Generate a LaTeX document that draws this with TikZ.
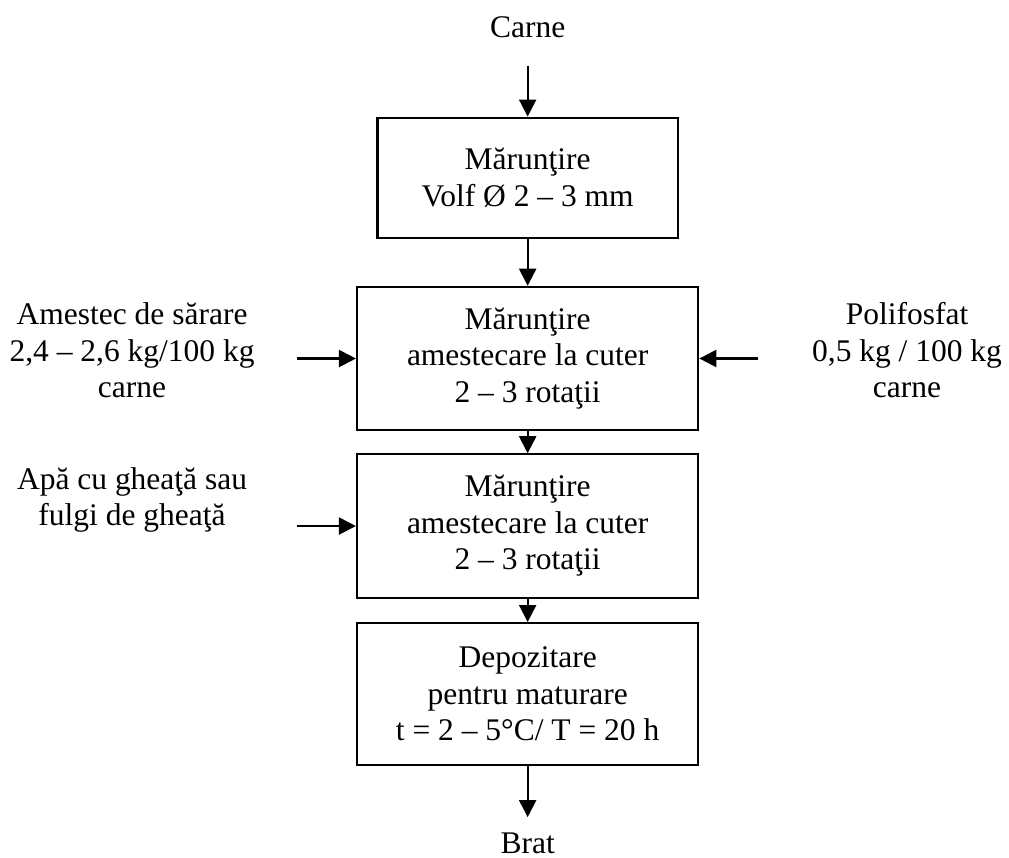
\documentclass[tikz,border=0pt]{standalone}
\usepackage{fontspec}
\setmainfont{Liberation Serif}
\usepackage{tikz}
\usetikzlibrary{arrows.meta, positioning, calc}

\begin{document}
\begin{tikzpicture}[font=\fontsize{12}{13.9}\selectfont,
        etapa/.style={rectangle, draw, line width=0.8pt, minimum width=4.57cm, minimum height=1.92cm, align=center, inner sep=0pt},
        sageata/.style={-{Triangle[length=6.5pt, width=6.5pt]}, line width=0.8pt},
        eticheta/.style={align=center, inner sep=0pt}]
        \useasboundingbox (0,0) rectangle (13.51,-11.475);
        \node[eticheta] (carne) at (7.065,-0.36) {Carne};
        \node[etapa, minimum width=4.02cm, minimum height=1.61cm] (maru) at (7.065,-2.38) {M\u{a}run\c{t}ire\\Volf Ø 2 – 3 mm};
        \node[etapa] (cuter1) at (7.065,-4.80) {M\u{a}run\c{t}ire\\amestecare la cuter\\2 – 3 rota\c{t}ii};
        \node[etapa] (cuter2) at (7.065,-7.043) {M\u{a}run\c{t}ire\\amestecare la cuter\\2 – 3 rota\c{t}ii};
        \node[etapa, minimum height=1.90cm] (depoz) at (7.065,-9.293) {Depozitare\\pentru maturare\\t = 2 – 5°C/ T = 20 h};
        \node[eticheta] (brat) at (7.065,-11.288) {Brat};
        \node[eticheta] (sarare) at (1.768,-4.693) {Amestec de s\u{a}rare\\2,4 – 2,6 kg/100 kg\\carne};
        \node[eticheta] (polif) at (12.145,-4.69) {Polifosfat\\0,5 kg / 100 kg\\carne};
        \node[eticheta] (apa) at (1.768,-6.695) {Ap\u{a} cu ghea\c{t}\u{a} sau\\fulgi de ghea\c{t}\u{a}};
        % capetele libere ale sagetilor laterale
        \coordinate (inSarare) at (3.977,-4.80);
        \coordinate (inPolif) at (10.15,-4.80);
        \coordinate (inApa) at (3.977,-7.043);
        \draw[sageata, shorten <=0.37cm] (carne) -- (maru);
        \draw[sageata] (maru) -- (cuter1);
        \draw[sageata] (cuter1) -- (cuter2);
        \draw[sageata] (cuter2) -- (depoz);
        \draw[sageata, shorten >=0.2cm] (depoz) -- (brat);
        \draw[sageata] (inSarare) -- (cuter1.west);
        \draw[sageata] (inPolif) -- (cuter1.east);
        \draw[sageata] (inApa) -- (cuter2.west);
    \end{tikzpicture}
\end{document}
